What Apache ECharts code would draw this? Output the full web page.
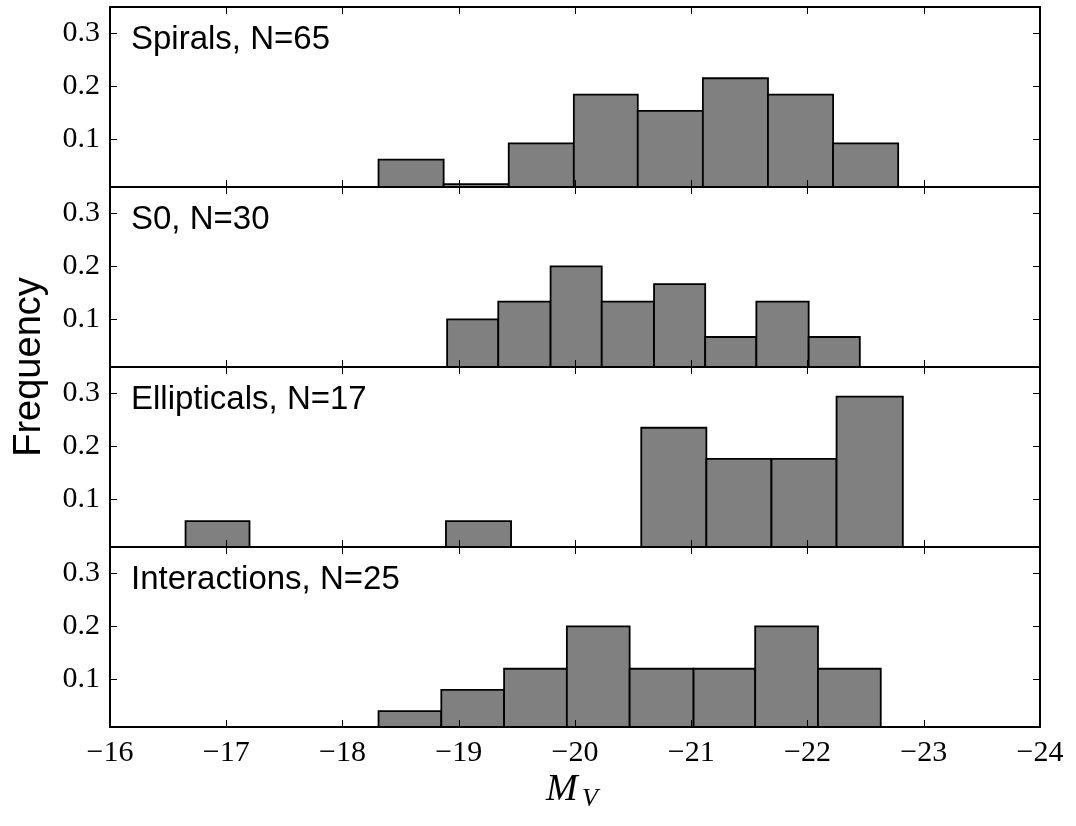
<!DOCTYPE html>
<html>
<head>
<meta charset="utf-8">
<script src="https://cdn.jsdelivr.net/npm/echarts@6/dist/echarts.min.js"></script>
<style>
  html, body { margin: 0; padding: 0; background: #fff; }
  #chart { width: 1076px; height: 826px; }
</style>
</head>
<body>
<div id="chart"></div>
<script>
// histogram bin edges (M_V) and counts
const panelNames = ['Spirals', 'S0', 'Ellipticals', 'Interactions'];
const panelN = [65, 30, 17, 25];

const spiralEdges = [-18.31, -18.87, -19.43, -19.99, -20.54, -21.10, -21.66, -22.22, -22.78];
const spiralCounts = [4, 1, 6, 12, 10, 14, 12, 6];

const s0Edges = [-18.90, -19.34, -19.79, -20.23, -20.68, -21.12, -21.56, -22.01, -22.45];
const s0Counts = [3, 4, 6, 4, 5, 2, 4, 2];

const ellEdges = [-16.65, -17.20, -17.76, -18.32, -18.89, -19.45, -20.01, -20.57, -21.13, -21.69, -22.25, -22.82];
const ellCounts = [1, 0, 0, 0, 1, 0, 0, 4, 3, 3, 5];

const intEdges = [-18.31, -18.85, -19.39, -19.93, -20.47, -21.02, -21.55, -22.09, -22.63];
const intCounts = [1, 2, 3, 5, 3, 3, 5, 3];

const xTicks = [-16, -17, -18, -19, -20, -21, -22, -23, -24];
const yTicks = [0.1, 0.2, 0.3];

const allEdges = [spiralEdges, s0Edges, ellEdges, intEdges];
const allCounts = [spiralCounts, s0Counts, ellCounts, intCounts];

const serif = '"Liberation Serif", "DejaVu Serif", serif';
const sans = '"Liberation Sans", Arial, sans-serif';

const chart = echarts.init(document.getElementById('chart'));

const panelTop = 7, panelH = 180;
let grids = [], xAxes = [], yAxes = [], series = [], graphics = [];

function fmtX(v) {
    return v < 0 ? '\u2212' + Math.abs(v) : String(v);
}

function renderBar(params, api) {
    let f = api.value(2);
    if (!f) return null;
    let a = api.coord([api.value(0), f]);
    let b = api.coord([api.value(1), f]);
    let cs = params.coordSys;
    let bottom = cs.y + cs.height;
    return {
        type: 'rect',
        shape: {x: Math.min(a[0], b[0]), y: a[1], width: Math.abs(b[0] - a[0]), height: bottom - a[1]},
        style: {fill: '#808080', stroke: '#000', lineWidth: 1.8}
    };
}

for (let i = 0; i < 4; i++) {
    let top = panelTop + i * panelH;
    grids.push({left: 110, right: 36, top: top, height: panelH});

    let last = i === 3;
    let xBase = {
        type: 'value', gridIndex: i, min: -24, max: -16, interval: 1, inverse: true, z: 10,
        axisLine: {show: true, onZero: false, lineStyle: {color: '#000', width: 2}},
        axisTick: {show: true, inside: true, length: 7, lineStyle: {color: '#000', width: 1}},
        splitLine: {show: false}
    };
    xAxes.push(Object.assign({}, xBase, {
        position: 'bottom',
        axisLabel: {
            show: last, margin: 11, color: '#000', fontFamily: serif, fontSize: 30,
            formatter: fmtX, customValues: xTicks
        }
    }));
    xAxes.push(Object.assign({}, xBase, {position: 'top', axisLabel: {show: false}}));

    let yBase = {
        type: 'value', gridIndex: i, min: 0.01, max: 0.35, z: 10,
        axisLine: {show: true, onZero: false, lineStyle: {color: '#000', width: 2}},
        axisTick: {show: true, inside: true, length: 7, customValues: yTicks, lineStyle: {color: '#000', width: 1}},
        splitLine: {show: false}
    };
    yAxes.push(Object.assign({}, yBase, {
        position: 'left',
        axisLabel: {
            show: true, margin: 10, color: '#000', fontFamily: serif, fontSize: 30,
            customValues: yTicks, formatter: v => v.toFixed(1)
        }
    }));
    yAxes.push(Object.assign({}, yBase, {position: 'right', axisLabel: {show: false}}));

    let edges = allEdges[i], counts = allCounts[i];
    let rows = counts.map((c, k) => [edges[k], edges[k + 1], c / panelN[i]]);
    series.push({
        type: 'custom',
        xAxisIndex: i * 2,
        yAxisIndex: i * 2,
        renderItem: renderBar,
        encode: {x: [0, 1], y: 2},
        data: rows,
        silent: true,
        z: 2
    });

    graphics.push({
        type: 'text', left: 131, top: top + 16, z: 20,
        style: {text: panelNames[i] + ', N=' + panelN[i], fill: '#000', font: '33px ' + sans}
    });
}

graphics.push({
    type: 'text', x: 30, y: 367, rotation: Math.PI / 2, z: 20,
    style: {text: 'Frequency', fill: '#000', font: '38px ' + sans, align: 'center', verticalAlign: 'middle'}
});
graphics.push({
    type: 'text', x: 546, y: 790, z: 20,
    style: {text: 'M', fill: '#000', font: 'italic 38px ' + serif, align: 'left', verticalAlign: 'middle'}
});
graphics.push({
    type: 'text', x: 582, y: 799, z: 20,
    style: {text: 'V', fill: '#000', font: 'italic 26px ' + serif, align: 'left', verticalAlign: 'middle'}
});

let option = {
    backgroundColor: '#fff',
    animation: false,
    grid: grids,
    xAxis: xAxes,
    yAxis: yAxes,
    series: series,
    graphic: graphics
};

chart.setOption(option);
window.onresize = chart.resize;
</script>
</body>
</html>
